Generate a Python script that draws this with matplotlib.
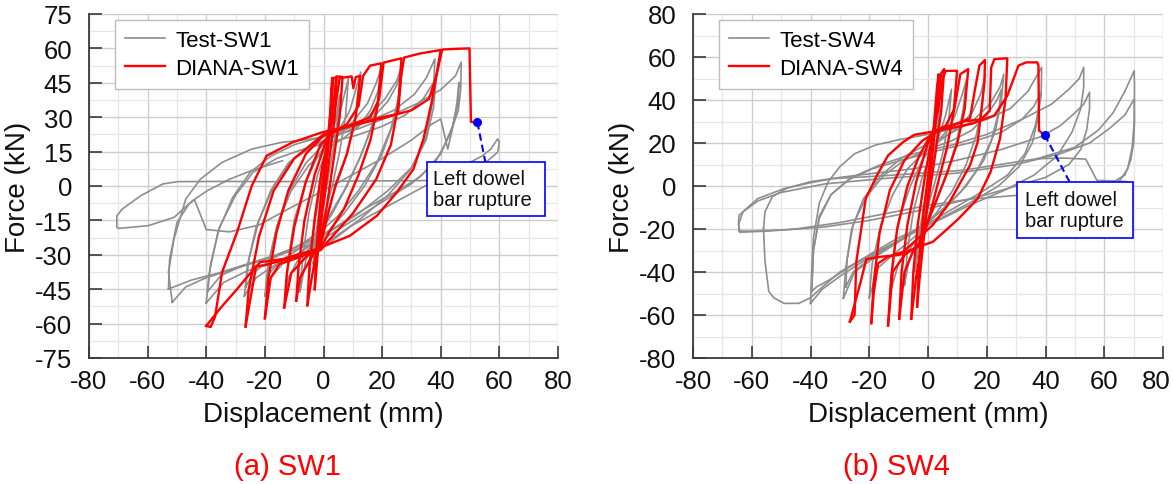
# -*- coding: utf-8 -*-
"""Hysteresis comparison of test vs DIANA model for walls SW1 and SW4.

Two panels, force-displacement loops read off the published figure.
"""

import matplotlib

matplotlib.use("Agg")
import matplotlib.pyplot as plt
from matplotlib.patches import Rectangle
from matplotlib.ticker import MultipleLocator

plt.rcParams["font.family"] = ["Liberation Sans", "DejaVu Sans"]
plt.rcParams["axes.unicode_minus"] = False

# ---------------------------------------------------------------- SW1 data
# each entry is one polyline (displacement mm, force kN)
sw1_test_loops = [
    [(0, 0), (1, 10), (2, 22), (3, 32), (2, 18), (0.5, 4), (-1, -10), (-2.5, -24), (-3.5, -34),
     (-2.5, -20), (-1, -6), (0, 0)],
    [(-5, -40), (-4, -25), (-2, -8), (0, 8), (2, 18), (4, 28), (5.5, 40), (4.5, 26), (2.5, 10),
     (0, -8), (-2, -20), (-4, -30), (-5, -40)],
    [(-8, -46), (-7, -30), (-5, -12), (-2, 5), (1, 16), (4, 24), (6, 34), (8.5, 47), (7.5, 30),
     (5.5, 15), (3, 0), (0, -14), (-3, -24), (-6, -32), (-8, -46)],
    [(-13, -47), (-12, -32), (-10, -15), (-6, 2), (-2, 13), (2, 20), (6, 26), (9, 33), (11, 42),
     (12.7, 49.7), (12, 38), (10, 24), (7, 10), (3, -5), (0, -17), (-4, -26), (-9, -33),
     (-12, -40), (-13, -47)],
    [(-20, -48), (-19, -35), (-16, -18), (-12, -3), (-6, 10), (0, 18), (5, 23), (10, 28), (15, 36),
     (18, 45), (20, 52.5), (19, 40), (17, 28), (13, 14), (8, 0), (3, -12), (-2, -22), (-8, -29),
     (-14, -34), (-18, -40), (-20, -48)],
    [(-19.5, -44), (-18.5, -32), (-15.5, -16), (-11, -2), (-5, 9), (1, 16), (7, 21), (12, 26),
     (16, 33), (18.5, 41), (19.5, 47), (18.5, 36), (16, 24), (12, 11), (7, -2), (2, -13),
     (-3, -21), (-9, -28), (-15, -33), (-18.5, -38), (-19.5, -44)],
    [(-27, -48), (-26, -35), (-23, -18), (-18, -2), (-12, 10), (-5, 17), (2, 21), (8, 25), (15, 30),
     (21, 38), (25, 46), (27, 53.5), (26, 40), (24, 28), (20, 14), (14, 0), (7, -12), (0, -22),
     (-8, -29), (-16, -34), (-23, -40), (-27, -48)],
    [(-26.5, -44), (-25.5, -32), (-22, -15), (-17, 0), (-11, 11), (-4, 17), (3, 21), (10, 25),
     (17, 30), (22, 37), (25, 44), (26.5, 50), (25.5, 38), (23, 25), (18.5, 11), (12, -2),
     (5, -13), (-2, -21), (-10, -27), (-18, -32), (-24, -38), (-26.5, -44)],
    [(-40, -51), (-39, -38), (-36, -20), (-31, -5), (-25, 6), (-18, 13), (-10, 18), (-2, 21),
     (6, 24), (15, 28), (24, 33), (31, 40), (35, 47), (38, 55.4), (37.4, 37.9), (34.8, 20.5),
     (29.8, 7.4), (22, -4), (12, -15), (3, -23), (-6, -29), (-16, -33), (-26, -37), (-34, -42),
     (-40, -51)],
    [(-39.5, -46), (-38.5, -34), (-35.5, -18), (-30, -4), (-24, 6), (-16, 12), (-7, 16), (2, 19),
     (11, 22), (20, 26), (28, 31), (34, 38), (37, 44), (38.5, 47), (37.5, 34), (35, 20), (30, 8),
     (22, -2), (12, -12), (2, -20), (-8, -26), (-18, -31), (-28, -35), (-35, -39), (-39.5, -46)],
    [(-51.6, -50.7), (-52.9, -37.6), (-51, -23), (-47, -5.7), (-42, 3), (-34.6, 10.3),
     (-24.5, 16.1), (-14.4, 19), (-4.3, 20.5), (3.3, 22), (12, 25), (22, 30), (32, 36), (40, 42),
     (45, 48), (47, 54), (46.8, 42), (46, 33), (43, 22), (38, 10), (30, 1), (20, -7), (10, -15),
     (0, -23), (-10, -28), (-20, -32), (-30, -36), (-40, -40), (-47, -44), (-51.6, -50.7)],
    [(-52.9, -44.9), (-52.5, -32), (-50, -16), (-46, -8), (-44, -6), (-40, -19), (-32, -20),
     (-22, -17), (-12, -10), (0, -2), (10, 5), (20, 12), (30, 20), (37, 27), (40, 29.2),
     (42.4, 16.1), (44, 25), (45.5, 36), (46.2, 45.2), (46, 36), (44, 26), (40, 14), (33, 4),
     (24, -3), (14, -10), (4, -18), (-6, -25), (-16, -30), (-26, -34), (-36, -38), (-45, -41),
     (-52.9, -44.9)],
    [(0.8, -26), (9.6, -17.3), (22.2, -8.6), (34.8, 0.1), (42, 5), (48, 9), (54, 13), (57, 16),
     (59.4, 20.5), (60, 19), (59.4, 14.7), (56, 11), (50, 6), (42, 2.5), (30, 2.3), (15, 2.2),
     (0, 2), (-18, 1.9), (-35, 2), (-49.7, 1.9), (-54.8, 0.9), (-62.3, -4.2), (-68.6, -10),
     (-70.5, -13), (-70.5, -18), (-69.9, -18.5), (-59.8, -17.3), (-51, -13.7), (-44.7, -6.4),
     (-39.6, -2), (-32, 3), (-24, 7), (-14, 11)],
]

sw1_fem_loops = [
    [(0, 0), (1, 12), (2, 26), (2.6, 40), (3.0, 47.2), (2.5, 30), (1.2, 12), (-0.5, -10),
     (-2, -30), (-3.0, -45)],
    [(-3.0, -45), (-2.4, -28), (-1, -6), (1, 16), (2.4, 32), (3.4, 47), (4.5, 47.5), (3.8, 30),
     (2, 12), (0, -8), (-2.2, -27), (-4, -40), (-5.5, -52)],
    [(-5.5, -52), (-4.8, -35), (-3, -14), (-0.5, 8), (2, 22), (3.6, 38), (4.4, 47.8), (6.5, 47.6),
     (5.5, 30), (3.5, 12), (1, -10), (-1.5, -26), (-5, -33), (-8, -40), (-9.3, -50)],
    [(-9.3, -50), (-8.5, -35), (-6.5, -15), (-3, 5), (1, 20), (3.5, 30), (5.5, 47), (9.6, 47.8),
     (10.2, 42.6), (11, 47.5), (12.5, 48), (11, 30), (8, 14), (4, 0), (1, -15), (-1, -26),
     (-6, -31), (-11, -38), (-13.4, -53)],
    [(-13.4, -53), (-12.5, -38), (-10, -18), (-6, 2), (-1, 18), (3, 23), (8, 27), (12, 35),
     (13.5, 48), (15.9, 52.5), (19.7, 53.5), (18.5, 35), (16, 20), (12, 5), (7, -10), (2, -20),
     (-1, -27), (-8, -31), (-15, -34), (-18, -40), (-20, -57.7)],
    [(-20, -57.7), (-18.8, -40), (-16, -20), (-12, -2), (-6, 14), (0, 22), (8, 26), (16, 30),
     (19, 38), (20.5, 53.8), (26.6, 55.7), (25.5, 35), (23, 18), (18, 3), (10, -12), (3, -22),
     (-1, -28), (-10, -31), (-20, -34.5), (-23, -35), (-24.5, -46), (-26.6, -61.3)],
    [(-26.6, -61.3), (-25.5, -45), (-22, -22), (-17, -2), (-10, 12), (0, 22.5), (10, 26.5),
     (20, 30), (25.4, 31.4), (26.5, 48), (27.5, 56), (33, 57.8), (40, 59.3), (36.9, 36.5),
     (34.1, 20.5), (30.7, 7.4), (25, -2.8), (18.2, -13), (9, -21.7), (-2.3, -27.5),
     (-13.7, -31.8), (-21.6, -33.2), (-25, -38), (-29.5, -45), (-35, -53), (-40, -61)],
    [(-40, -61), (-38.5, -61.5), (-37, -57), (-34.6, -37.6), (-29.5, -20.2), (-24.5, 0),
     (-19.4, 13.2), (-10.6, 19), (-0.5, 23.4), (9.6, 26.3), (20, 29.5), (30, 33), (36, 38),
     (38.5, 48), (40.5, 59.5), (45, 59.8), (49.8, 60), (50.3, 28.0), (51.2, 27.8)],
]

# ---------------------------------------------------------------- SW4 data
sw4_test_loops = [
    [(0, 0), (1, 12), (2.5, 25), (4, 38), (3, 22), (1, 6), (-1, -10), (-3, -28), (-4.5, -40),
     (-3, -22), (-1, -6), (0, 0)],
    [(-8, -46), (-7, -30), (-5, -12), (-2, 4), (1, 15), (4, 24), (6, 33), (8, 45), (7, 30), (5, 15),
     (2, 0), (-1, -14), (-4, -26), (-6.5, -35), (-8, -46)],
    [(-13, -50), (-12, -34), (-10, -16), (-6, 0), (-2, 12), (2, 19), (6, 25), (9, 32), (11.5, 42),
     (13, 49), (12, 36), (10, 22), (7, 8), (3, -6), (-1, -18), (-5, -27), (-10, -36), (-13, -50)],
    [(-20, -52), (-19, -36), (-16, -18), (-12, -4), (-7, 8), (-1, 16), (5, 22), (10, 27), (15, 34),
     (18, 43), (19.5, 52), (18.5, 38), (16.5, 24), (13, 10), (8, -3), (2, -14), (-4, -23),
     (-11, -31), (-17, -38), (-20, -52)],
    [(-28.8, -52.2), (-28, -38), (-26, -20), (-22, -6), (-16, 5), (-9, 13), (-1, 19), (7, 24),
     (15, 30), (21, 38), (24.5, 46), (25.8, 52), (25, 40), (23, 26), (19, 12), (13, 0), (6, -10),
     (-2, -19), (-10, -26), (-18, -33), (-25, -40), (-28.8, -52.2)],
    [(-28, -47), (-27.5, -34), (-25.5, -18), (-21, -5), (-15, 5), (-8, 12), (0, 17), (8, 21),
     (15, 26), (20, 33), (23.5, 40), (25, 45), (24, 34), (21.5, 21), (17, 8), (11, -3), (4, -12),
     (-4, -20), (-12, -27), (-20, -34), (-25.5, -40), (-28, -47)],
    [(-40, -54.6), (-39.6, -40), (-39, -24), (-37, -8), (-34, 2), (-30, 9), (-25, 15), (-18, 19),
     (-10, 21.5), (0, 24), (10, 27), (20, 31), (28, 36), (34, 44), (38.7, 55.2), (38.5, 42),
     (36.5, 28), (33, 15), (27, 5), (18, -3), (8, -11), (-2, -19), (-12, -27), (-22, -35),
     (-30, -42), (-36, -48), (-40, -54.6)],
    [(-39.6, -49), (-39, -30), (-37, -14), (-33, -4), (-27, 3), (-19, 8), (-9, 12), (2, 16),
     (14, 20), (25, 25), (32, 31), (36, 37), (38.5, 43.6), (37.5, 32), (35.5, 20), (31, 9),
     (24, 0), (14, -8), (3, -16), (-8, -24), (-18, -31), (-27, -38), (-34, -44), (-38, -47),
     (-39.6, -49)],
    [(-39.6, -49), (-39, -30), (-37, -15), (-33, -4), (-26, 4), (-16, 10), (-5, 15), (8, 19),
     (20, 24), (32, 31), (42, 38), (48, 45), (51.5, 50), (53, 55.2), (53, 46), (52, 36), (49, 25),
     (44, 14), (36, 5), (26, -2), (14, -9), (2, -17), (-10, -24), (-20, -32), (-30, -40),
     (-36, -47), (-40, -52), (-44, -54.6), (-49, -54.6), (-52.5, -52), (-54.2, -49),
     (-55.5, -35), (-56, -19.8)],
    [(-56, -19.8), (-55.5, -12), (-53, -5), (-48, -1), (-40, 2), (-30, 4), (-18, 6), (-5, 8),
     (10, 12), (25, 17), (38.5, 23), (45, 28), (50, 34), (53, 38), (55, 43.6), (55, 36), (54, 26),
     (52, 17), (48, 10), (40, 4), (30, 0), (20, -4), (8, -8), (-5, -12), (-20, -16), (-35, -19),
     (-50, -20.5), (-60, -21), (-64.3, -21)],
    [(-64.3, -21), (-64.5, -17), (-64.3, -13.6), (-58, -5.9), (-49, -1.2), (-40, 1.5),
     (-32.6, 3.4), (-13.6, 4.9), (11.8, 7.3), (37.2, 12.7), (50, 18), (58, 26), (63, 34),
     (67, 44), (70.2, 53.6), (70.3, 45), (70.2, 30), (69.5, 18), (68, 8), (65, 2), (58, -2),
     (45, -4.3), (30.8, -4.3), (15, -6), (0, -9), (-15, -13), (-30, -17), (-45, -20), (-55, -21),
     (-64, -21.5)],
    [(-64, -21.5), (-64.5, -18), (-63, -12), (-58, -7), (-50, -3), (-35, 1), (-15, 3.5), (10, 6),
     (30, 10), (45, 15), (55, 20), (62, 27), (67, 33), (70.2, 40.5), (70.3, 30), (70, 20),
     (69, 12), (67, 5), (62, 1), (55, -1), (45, -3)],
    [(37.2, 12.7), (46, 13), (53.7, 12.5), (57.5, 2.6), (63, 2.4), (68, 2)],
]

sw4_fem_loops = [
    [(0, 0), (1, 14), (2, 28), (3, 45), (3.6, 52), (3, 35), (1.5, 15), (0, -5), (-1.5, -25),
     (-3, -45), (-3.7, -56.1)],
    [(-3.7, -56.1), (-3, -35), (-1.5, -12), (0.5, 10), (2, 26), (3.5, 42), (4.5, 52.5),
     (5.5, 54.4), (4.5, 35), (2.5, 15), (0, -8), (-2, -26), (-4, -42), (-5.7, -61.8)],
    [(-5.7, -61.8), (-5, -40), (-3.5, -18), (-1, 5), (1.5, 24), (3.5, 36), (5, 50), (6, 53.5),
     (9.9, 53.6), (8.8, 35), (6.5, 18), (3.5, 2), (0.5, -14), (-2, -26), (-5, -30), (-8, -40),
     (-9.8, -61.8)],
    [(-9.8, -61.8), (-9, -40), (-7, -18), (-4, 2), (0, 20), (3, 26), (6, 28), (9, 36), (11, 52),
     (13.7, 54.4), (12.5, 36), (10, 20), (6.5, 6), (2.5, -8), (-1, -20), (-3.5, -28), (-8, -32),
     (-12, -40), (-13.6, -64.9)],
    [(-13.6, -64.9), (-12.5, -42), (-10.5, -20), (-7, 0), (-3, 14), (1, 24), (6, 27), (10, 29),
     (14.3, 31.5), (16, 45), (17.5, 56), (19.4, 58.6), (19.2, 48), (18.1, 34.3), (16.9, 20.4),
     (14.3, 9.6), (10.5, 0.3), (6.7, -9), (1.6, -18.2), (-3.4, -24.4), (-8.5, -30.6),
     (-13.6, -32.9), (-17, -36), (-18.5, -50), (-19.3, -63.8)],
    [(-19.3, -63.8), (-18.5, -45), (-16.5, -22), (-13, -2), (-8, 12), (-2, 21), (5, 27), (12, 30),
     (18, 31), (21, 35), (21.5, 55), (22.6, 59), (27, 59.4), (26.4, 40.5), (24.5, 21.9),
     (21.3, 6.5), (16.9, -5.9), (10.5, -15.1), (5.5, -21.3), (1.6, -26), (-3.4, -28.3),
     (-9.8, -32.1), (-16.1, -32.9), (-21, -34), (-23, -45), (-26.6, -63.1)],
    [(-26.6, -63.1), (-25, -60), (-24.4, -35.2), (-21.2, -5.9), (-17.4, 4.9), (-13.6, 14.2),
     (-8.5, 20.4), (-4.7, 23.8), (0.7, 25.1), (8, 27), (15, 29), (22.6, 32.8), (27, 42),
     (30.8, 56), (33.4, 57.5), (37.2, 57.5), (37.6, 56), (37.8, 25.8), (38.8, 24.6)],
]

x_ticks = [-80, -60, -40, -20, 0, 20, 40, 60, 80]

GRAY = "#8e8e8e"
RED = "#ff0000"
BLUE = "#0000ff"
TICK_FS = 18.5


def _draw_loops(ax, loops, color, lw, label, z):
    for i, loop in enumerate(loops):
        xs = [p[0] for p in loop]
        ys = [p[1] for p in loop]
        ax.plot(xs, ys, color=color, linewidth=lw, solid_joinstyle="round",
                label=label if i == 0 else None, zorder=z)


def draw_panel(ax, test_loops, fem_loops, name, ylim, ystep, rupture, box, shift_last=False):
    _draw_loops(ax, test_loops, GRAY, 1.2, f"Test-{name}", 2)
    _draw_loops(ax, fem_loops, RED, 1.7, f"DIANA-{name}", 3)

    ax.set_xlim(-80, 80)
    ax.set_ylim(-ylim, ylim)
    labels = [str(v) for v in x_ticks]
    if shift_last:
        # source draws this one nudged left so it stays inside the page
        labels[-1] = ""
    ax.set_xticks(x_ticks, labels=labels)
    ax.xaxis.set_minor_locator(MultipleLocator(10))
    ax.yaxis.set_major_locator(MultipleLocator(ystep))
    ax.yaxis.set_minor_locator(MultipleLocator(ystep / 2))
    ax.grid(True, which="major", color="#cdcdcd", linewidth=1.0, zorder=0)
    ax.grid(True, which="minor", color="#e6e6e6", linewidth=0.9, zorder=0)
    ax.set_axisbelow(True)
    for side in ("top", "right"):
        ax.spines[side].set_visible(False)
    for side in ("left", "bottom"):
        ax.spines[side].set_color("#3a3a3a")
        ax.spines[side].set_linewidth(1.3)
    ax.tick_params(which="major", direction="in", length=9, width=1.2, color="#3a3a3a",
                   labelsize=TICK_FS, labelcolor="#111111")
    ax.tick_params(axis="x", which="major", pad=8)
    ax.tick_params(axis="y", which="major", pad=12)
    ax.tick_params(which="minor", length=0)
    if shift_last:
        ax.annotate(str(x_ticks[-1]), xy=(x_ticks[-1], 0), xycoords=("data", "axes fraction"),
                    xytext=(-5, -8), textcoords="offset points", ha="center", va="top",
                    fontsize=TICK_FS, color="#111111", annotation_clip=False)

    ax.set_xlabel("Displacement (mm)", fontsize=20, va="center", color="#111111")
    ax.xaxis.set_label_coords(0.5, -0.163)
    ax.set_ylabel("Force (kN)", fontsize=20, va="center", color="#111111")
    ax.yaxis.set_label_coords(-0.152, 0.5)

    # rupture marker + callout
    (dx, dy), (lx, ly) = rupture
    ax.plot([dx, lx], [dy, ly], color=BLUE, linestyle=(0, (3.5, 2)), linewidth=1.5, zorder=4)
    ax.plot([dx], [dy], "o", color=BLUE, markersize=5.5, zorder=5)
    bx0, by0, bx1, by1, tx = box
    ax.add_patch(Rectangle((bx0, by0), bx1 - bx0, by1 - by0, facecolor="white",
                           edgecolor=BLUE, linewidth=1.2, zorder=6))
    ax.text(tx, (by0 + by1) / 2, "Left dowel\nbar rupture", fontsize=14.5, ha="left",
            va="center", linespacing=1.15, color="#111111", zorder=7)

    leg = ax.legend(loc="upper left", bbox_to_anchor=(0.056, 0.982), borderaxespad=0,
                    fontsize=16, fancybox=False, framealpha=1, edgecolor="#bdbdbd",
                    handlelength=1.8, handletextpad=0.45, borderpad=0.45, labelspacing=0.3)
    leg.get_frame().set_linewidth(1.0)
    leg.set_zorder(8)


def main() -> None:
    fig = plt.figure(figsize=(11.74, 4.85), dpi=100)
    ax1 = fig.add_axes([89 / 1174, 1 - 359 / 485, 469 / 1174, 344 / 485])
    ax2 = fig.add_axes([693 / 1174, 1 - 359 / 485, 470 / 1174, 344 / 485])

    draw_panel(ax1, sw1_test_loops, sw1_fem_loops, "SW1", 75, 15,
               ((52.5, 27.8), (55.2, 10.5)), (35.3, -13.0, 75.6, 10.5, 37.4))
    draw_panel(ax2, sw4_test_loops, sw4_fem_loops, "SW4", 80, 20,
               ((39.7, 23.8), (48.2, 1.9)), (30.3, -24.2, 69.8, 1.9, 33.0), shift_last=True)

    fig.text(287 / 1174, 1 - 467 / 485, "(a) SW1", color=RED, fontsize=21,
             ha="center", va="center")
    fig.text(896 / 1174, 1 - 467 / 485, "(b) SW4", color=RED, fontsize=21,
             ha="center", va="center")

    fig.savefig("out.png", dpi=100)
    plt.close(fig)


if __name__ == "__main__":
    main()
